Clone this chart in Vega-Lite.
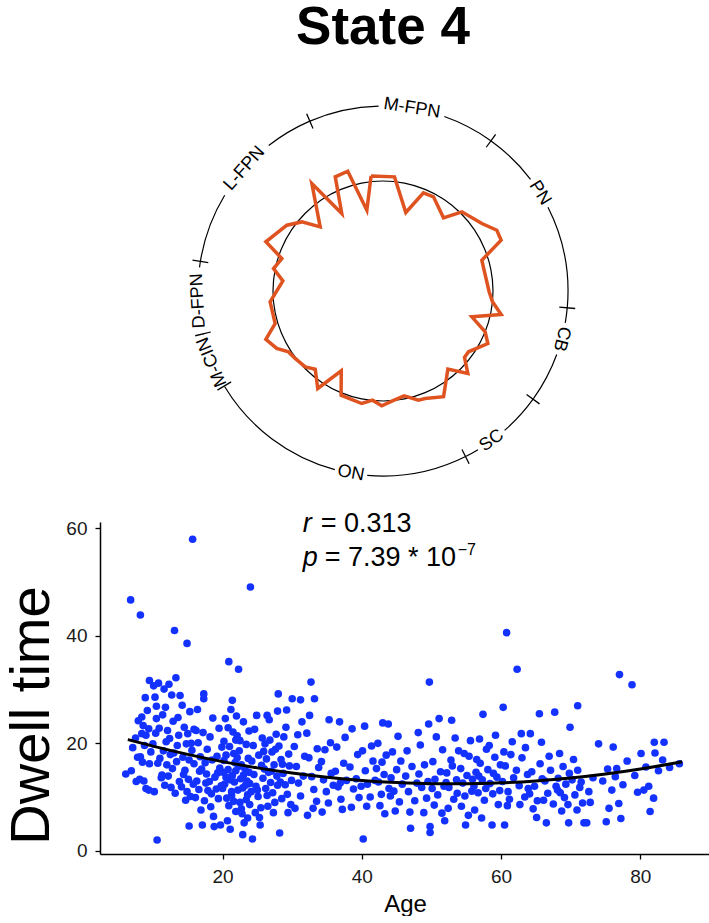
{
  "$schema": "https://vega.github.io/schema/vega-lite/v6.json",
  "padding": {"left": 3, "top": 2, "right": 0, "bottom": 0},
  "background": "white",
  "config": {"view": {"stroke": null}, "font": "Liberation Sans"},
  "spacing": 8,
  "vconcat": [
    {
      "title": {"text": "State 4", "fontSize": 53, "font": "Liberation Sans", "fontWeight": "bold", "color": "black", "offset": 26, "anchor": "middle"},
      "width": 566,
      "height": 420,
      "layer": [
        {
          "data": {"values": [{"a0": 0, "a1": 360}]},
          "mark": {"type": "arc", "outerRadius": 110.6, "innerRadius": 109.4, "color": "black"},
          "encoding": {
            "theta": {"field": "a0", "type": "quantitative", "scale": {"domain": [0, 360], "range": [0, 6.283185307]}},
            "theta2": {"field": "a1"}
          }
        },
        {
          "data": {"name": "nets", "values": [
            {"net": "M-FPN", "start": -23.5, "end": 35.5, "lab": 9},
            {"net": "PN", "start": 35.5, "end": 95, "lab": 58},
            {"net": "CB", "start": 95, "end": 125.6, "lab": 105},
            {"net": "SC", "start": 125.6, "end": 153.3, "lab": 144},
            {"net": "ON", "start": 153.3, "end": 238.9, "lab": 190},
            {"net": "M-CIN", "start": 238.9, "end": 256.4, "lab": 247.5},
            {"net": "D-FPN", "start": 256.4, "end": 279, "lab": 267},
            {"net": "L-FPN", "start": 279, "end": 336.5, "lab": 311.5}
          ]},
          "transform": [
            {"calculate": "max(datum.start, datum.lab - (length(datum.net) * 1.75 + 1.6))", "as": "e1"}
          ],
          "mark": {"type": "arc", "outerRadius": 185.6, "innerRadius": 184.4, "color": "black"},
          "encoding": {
            "theta": {"field": "start", "type": "quantitative", "scale": {"domain": [0, 360], "range": [0, 6.283185307]}},
            "theta2": {"field": "e1"}
          }
        },
        {
          "data": {"name": "nets"},
          "transform": [
            {"calculate": "min(datum.end, datum.lab + (length(datum.net) * 1.75 + 1.6))", "as": "s2"}
          ],
          "mark": {"type": "arc", "outerRadius": 185.6, "innerRadius": 184.4, "color": "black"},
          "encoding": {
            "theta": {"field": "s2", "type": "quantitative", "scale": {"domain": [0, 360], "range": [0, 6.283185307]}},
            "theta2": {"field": "end"}
          }
        },
        {
          "data": {"name": "nets"},
          "transform": [
            {"calculate": "datum.start + 0.4", "as": "t2"}
          ],
          "mark": {"type": "arc", "outerRadius": 193, "innerRadius": 177, "color": "black"},
          "encoding": {
            "theta": {"field": "start", "type": "quantitative", "scale": {"domain": [0, 360], "range": [0, 6.283185307]}},
            "theta2": {"field": "t2"}
          }
        },
        {
          "data": {"name": "nets"},
          "transform": [
            {"calculate": "(datum.lab > 120 && datum.lab < 230) ? datum.lab - 180 : datum.lab", "as": "rot"}
          ],
          "mark": {"type": "text", "radius": 185, "fontSize": 18, "font": "Liberation Sans", "align": "center", "baseline": "middle", "color": "black"},
          "encoding": {
            "theta": {"field": "lab", "type": "quantitative", "scale": {"domain": [0, 360], "range": [0, 6.283185307]}},
            "text": {"field": "net"},
            "angle": {"field": "rot", "type": "quantitative", "scale": null}
          }
        },
        {
          "data": {"values": [
            {"k": 1, "ang": 354.1, "r": 1.052}, {"k": 2, "ang": 5.75, "r": 1.043}, {"k": 3, "ang": 16.2, "r": 0.743},
            {"k": 4, "ang": 22.4, "r": 0.965}, {"k": 5, "ang": 28.2, "r": 0.971}, {"k": 6, "ang": 39.6, "r": 0.863},
            {"k": 7, "ang": 44.9, "r": 1.016}, {"k": 8, "ang": 55.7, "r": 1.088}, {"k": 9, "ang": 61.9, "r": 1.173},
            {"k": 10, "ang": 66.7, "r": 1.169}, {"k": 11, "ang": 72.7, "r": 0.941}, {"k": 12, "ang": 79.3, "r": 0.939},
            {"k": 13, "ang": 90.4, "r": 0.965}, {"k": 14, "ang": 95.6, "r": 1.0}, {"k": 15, "ang": 101.2, "r": 1.095},
            {"k": 16, "ang": 106.2, "r": 0.841}, {"k": 17, "ang": 111.8, "r": 1.0}, {"k": 18, "ang": 116.6, "r": 1.066},
            {"k": 19, "ang": 125.4, "r": 0.954}, {"k": 20, "ang": 129.2, "r": 0.956}, {"k": 21, "ang": 134.2, "r": 1.076},
            {"k": 22, "ang": 140.3, "r": 0.923}, {"k": 23, "ang": 150.2, "r": 1.108}, {"k": 24, "ang": 158.6, "r": 1.05},
            {"k": 25, "ang": 162.0, "r": 1.044}, {"k": 26, "ang": 168.6, "r": 0.972}, {"k": 27, "ang": 175.4, "r": 1.005},
            {"k": 28, "ang": 180.6, "r": 1.044}, {"k": 29, "ang": 185.5, "r": 0.997}, {"k": 30, "ang": 190.7, "r": 1.041},
            {"k": 31, "ang": 201.9, "r": 1.021}, {"k": 32, "ang": 207.6, "r": 0.819}, {"k": 33, "ang": 213.8, "r": 1.066},
            {"k": 34, "ang": 220.9, "r": 0.941}, {"k": 35, "ang": 225.7, "r": 0.988}, {"k": 36, "ang": 232.5, "r": 1.007},
            {"k": 37, "ang": 237.2, "r": 1.022}, {"k": 38, "ang": 241.6, "r": 1.098}, {"k": 39, "ang": 247.6, "r": 1.152},
            {"k": 40, "ang": 253.2, "r": 1.024}, {"k": 41, "ang": 264.5, "r": 1.031}, {"k": 42, "ang": 275.8, "r": 0.915},
            {"k": 43, "ang": 281.6, "r": 1.016}, {"k": 44, "ang": 287.8, "r": 0.966}, {"k": 45, "ang": 292.8, "r": 1.155},
            {"k": 46, "ang": 304.4, "r": 1.059}, {"k": 47, "ang": 310.4, "r": 0.969}, {"k": 48, "ang": 315.6, "r": 0.816},
            {"k": 49, "ang": 326.5, "r": 1.172}, {"k": 50, "ang": 332.0, "r": 0.798}, {"k": 51, "ang": 337.3, "r": 1.125},
            {"k": 52, "ang": 343.6, "r": 1.135}, {"k": 53, "ang": 348.7, "r": 0.749}, {"k": 54, "ang": 354.1, "r": 1.052}
          ]},
          "transform": [
            {"calculate": "datum.r * sin(datum.ang * PI / 180)", "as": "px"},
            {"calculate": "datum.r * cos(datum.ang * PI / 180)", "as": "py"}
          ],
          "mark": {"type": "line", "color": "#DF5320", "strokeWidth": 3.5, "strokeJoin": "miter"},
          "encoding": {
            "x": {"field": "px", "type": "quantitative", "scale": {"domain": [-2.5727, 2.5727], "nice": false, "zero": false}, "axis": null},
            "y": {"field": "py", "type": "quantitative", "scale": {"domain": [-1.9091, 1.9091], "nice": false, "zero": false}, "axis": null},
            "order": {"field": "k", "type": "quantitative"}
          }
        }
      ]
    },
    {
      "width": 610,
      "height": 332,
      "layer": [
        {
          "data": {"values": [
{"age":6.1,"dwell":14.3},{"age":6.8,"dwell":46.7},{"age":6.9,"dwell":14.9},{"age":7.1,"dwell":19.2},{"age":7.5,"dwell":21.0},{"age":7.8,"dwell":17.4},{"age":7.6,"dwell":12.9},{"age":7.9,"dwell":24.2},
{"age":8.2,"dwell":43.9},{"age":8.2,"dwell":17.5},{"age":8.5,"dwell":16.5},{"age":8.1,"dwell":13.3},{"age":8.7,"dwell":13.0},{"age":9.0,"dwell":11.6},{"age":9.4,"dwell":11.3},{"age":8.4,"dwell":24.9},{"age":8.6,"dwell":23.3},{"age":8.4,"dwell":21.8},{"age":9.0,"dwell":21.5},{"age":9.4,"dwell":22.7},{"age":8.9,"dwell":28.5},{"age":9.5,"dwell":31.7},{"age":9.7,"dwell":18.4},{"age":9.5,"dwell":16.2},{"age":9.2,"dwell":26.1},{"age":8.8,"dwell":19.6},
{"age":10.0,"dwell":19.9},{"age":10.5,"dwell":24.6},{"age":10.6,"dwell":2.0},{"age":11.0,"dwell":17.2},{"age":11.3,"dwell":14.1},{"age":11.2,"dwell":13.6},{"age":11.8,"dwell":26.7},{"age":10.8,"dwell":31.2},{"age":10.1,"dwell":30.7},{"age":11.6,"dwell":30.1},{"age":10.3,"dwell":28.6},{"age":10.4,"dwell":21.9},{"age":10.9,"dwell":22.8},{"age":11.5,"dwell":18.6},{"age":10.2,"dwell":11.0},{"age":11.7,"dwell":12.2},{"age":10.7,"dwell":16.3},{"age":11.4,"dwell":25.3},{"age":11.9,"dwell":20.3},{"age":10.5,"dwell":26.9},
{"age":12.3,"dwell":31.0},{"age":13.3,"dwell":32.2},{"age":12.7,"dwell":29.0},{"age":13.9,"dwell":28.9},{"age":13.1,"dwell":41.0},{"age":12.1,"dwell":22.4},{"age":12.5,"dwell":17.9},{"age":12.8,"dwell":15.3},{"age":13.2,"dwell":10.7},{"age":13.5,"dwell":19.6},{"age":12.2,"dwell":13.9},{"age":12.9,"dwell":24.1},{"age":13.7,"dwell":21.5},{"age":13.4,"dwell":16.6},{"age":12.6,"dwell":11.8},{"age":13.8,"dwell":12.9},{"age":12.4,"dwell":20.9},{"age":13.0,"dwell":18.2},{"age":13.6,"dwell":24.8},{"age":12.0,"dwell":16.0},
{"age":15.7,"dwell":58.0},{"age":14.9,"dwell":38.6},{"age":14.2,"dwell":27.1},{"age":14.5,"dwell":23.0},{"age":14.8,"dwell":19.9},{"age":14.3,"dwell":17.4},{"age":14.6,"dwell":15.0},{"age":15.1,"dwell":13.3},{"age":15.2,"dwell":4.6},{"age":15.4,"dwell":10.1},{"age":15.0,"dwell":21.8},{"age":15.6,"dwell":18.7},{"age":15.9,"dwell":16.2},{"age":14.1,"dwell":11.9},{"age":15.3,"dwell":25.9},{"age":15.8,"dwell":12.4},{"age":14.7,"dwell":9.4},{"age":15.5,"dwell":20.0},{"age":14.4,"dwell":14.2},{"age":15.2,"dwell":16.9},{"age":15.9,"dwell":22.6},{"age":14.9,"dwell":11.0},
{"age":17.3,"dwell":29.2},{"age":17.3,"dwell":28.3},{"age":17.1,"dwell":4.8},{"age":16.2,"dwell":22.4},{"age":16.5,"dwell":20.1},{"age":16.8,"dwell":17.5},{"age":17.0,"dwell":15.2},{"age":16.3,"dwell":13.0},{"age":16.6,"dwell":11.4},{"age":17.4,"dwell":9.3},{"age":17.6,"dwell":12.6},{"age":17.8,"dwell":18.9},{"age":16.4,"dwell":26.3},{"age":17.2,"dwell":22.0},{"age":16.9,"dwell":7.6},{"age":17.7,"dwell":14.3},{"age":16.1,"dwell":9.9},{"age":17.5,"dwell":16.4},{"age":16.7,"dwell":14.8},{"age":17.9,"dwell":11.2},
{"age":18.8,"dwell":4.5},{"age":19.7,"dwell":4.8},{"age":18.2,"dwell":21.2},{"age":18.5,"dwell":16.9},{"age":18.9,"dwell":13.7},{"age":19.1,"dwell":11.5},{"age":19.4,"dwell":9.7},{"age":18.3,"dwell":8.2},{"age":19.6,"dwell":15.4},{"age":19.9,"dwell":19.3},{"age":18.6,"dwell":24.7},{"age":19.2,"dwell":17.6},{"age":18.1,"dwell":12.9},{"age":19.8,"dwell":12.1},{"age":18.7,"dwell":6.4},{"age":19.5,"dwell":22.8},{"age":18.4,"dwell":10.6},{"age":19.3,"dwell":14.5},
{"age":20.9,"dwell":35.2},{"age":21.4,"dwell":28.0},{"age":20.2,"dwell":20.4},{"age":20.5,"dwell":17.8},{"age":20.8,"dwell":15.1},{"age":21.1,"dwell":13.2},{"age":21.3,"dwell":11.0},{"age":21.6,"dwell":9.2},{"age":21.9,"dwell":7.3},{"age":20.3,"dwell":12.4},{"age":20.6,"dwell":9.8},{"age":20.1,"dwell":14.6},{"age":21.0,"dwell":19.4},{"age":21.5,"dwell":22.1},{"age":21.8,"dwell":16.4},{"age":20.4,"dwell":24.6},{"age":21.2,"dwell":26.3},{"age":20.7,"dwell":5.6},{"age":21.7,"dwell":12.8},{"age":20.9,"dwell":8.4},{"age":21.4,"dwell":14.0},{"age":20.0,"dwell":11.6},{"age":21.9,"dwell":20.6},{"age":21.1,"dwell":4.0},{"age":20.5,"dwell":13.7},{"age":21.6,"dwell":18.1},{"age":20.8,"dwell":22.9},{"age":21.3,"dwell":10.3},{"age":21.9,"dwell":14.9},{"age":20.2,"dwell":16.8},
{"age":22.3,"dwell":33.8},{"age":22.9,"dwell":3.0},{"age":22.1,"dwell":21.4},{"age":22.4,"dwell":18.6},{"age":22.7,"dwell":16.0},{"age":23.0,"dwell":14.1},{"age":23.3,"dwell":12.2},{"age":23.6,"dwell":10.4},{"age":23.9,"dwell":8.6},{"age":22.2,"dwell":11.3},{"age":22.5,"dwell":9.0},{"age":22.8,"dwell":6.9},{"age":23.1,"dwell":5.2},{"age":23.4,"dwell":19.8},{"age":23.7,"dwell":17.2},{"age":22.6,"dwell":13.4},{"age":23.2,"dwell":15.3},{"age":22.0,"dwell":25.1},{"age":23.8,"dwell":22.3},{"age":22.9,"dwell":11.7},{"age":23.5,"dwell":13.0},{"age":22.3,"dwell":15.7},{"age":23.9,"dwell":12.5},{"age":22.7,"dwell":7.8},{"age":23.4,"dwell":9.5},{"age":22.1,"dwell":17.3},{"age":23.6,"dwell":6.1},{"age":22.5,"dwell":20.5},{"age":23.0,"dwell":24.0},{"age":23.8,"dwell":14.6},
{"age":24.0,"dwell":49.1},{"age":24.3,"dwell":2.2},{"age":24.9,"dwell":25.2},{"age":25.4,"dwell":4.8},{"age":24.2,"dwell":16.7},{"age":24.5,"dwell":14.2},{"age":24.8,"dwell":12.0},{"age":25.1,"dwell":10.1},{"age":25.5,"dwell":8.0},{"age":25.8,"dwell":13.5},{"age":24.4,"dwell":19.6},{"age":25.2,"dwell":17.8},{"age":25.7,"dwell":21.0},{"age":24.7,"dwell":7.1},{"age":25.0,"dwell":11.3},{"age":25.6,"dwell":15.9},{"age":24.1,"dwell":11.0},{"age":25.3,"dwell":6.2},{"age":24.6,"dwell":22.6},{"age":25.9,"dwell":18.5},
{"age":26.4,"dwell":25.2},{"age":26.1,"dwell":19.9},{"age":26.3,"dwell":17.1},{"age":26.6,"dwell":14.6},{"age":26.9,"dwell":12.7},{"age":27.2,"dwell":10.8},{"age":27.5,"dwell":9.0},{"age":27.8,"dwell":13.9},{"age":26.2,"dwell":11.6},{"age":26.5,"dwell":8.3},{"age":26.8,"dwell":20.6},{"age":27.1,"dwell":18.4},{"age":27.4,"dwell":16.0},{"age":27.7,"dwell":21.7},{"age":27.9,"dwell":12.2},{"age":26.7,"dwell":24.4},{"age":27.3,"dwell":7.1},{"age":26.0,"dwell":15.2},{"age":27.6,"dwell":18.9},{"age":26.4,"dwell":10.3},{"age":27.0,"dwell":14.8},{"age":27.9,"dwell":26.0},
{"age":28.0,"dwell":29.2},{"age":29.4,"dwell":7.1},{"age":28.2,"dwell":3.3},{"age":28.1,"dwell":19.5},{"age":28.4,"dwell":17.0},{"age":28.7,"dwell":14.4},{"age":29.0,"dwell":12.3},{"age":29.3,"dwell":10.5},{"age":29.6,"dwell":15.8},{"age":29.9,"dwell":13.1},{"age":28.5,"dwell":9.7},{"age":28.8,"dwell":21.2},{"age":29.1,"dwell":23.0},{"age":29.5,"dwell":18.0},{"age":28.3,"dwell":12.8},{"age":29.8,"dwell":8.6},{"age":28.6,"dwell":16.1},{"age":29.2,"dwell":26.2},
{"age":30.0,"dwell":28.3},{"age":31.2,"dwell":28.1},{"age":31.4,"dwell":24.0},{"age":30.3,"dwell":19.4},{"age":30.6,"dwell":15.7},{"age":30.9,"dwell":12.6},{"age":31.2,"dwell":10.2},{"age":31.6,"dwell":13.9},{"age":30.4,"dwell":7.9},{"age":31.8,"dwell":17.6},{"age":30.8,"dwell":21.6},
{"age":32.7,"dwell":31.4},{"age":33.2,"dwell":28.3},{"age":32.5,"dwell":25.2},{"age":32.1,"dwell":21.9},{"age":32.4,"dwell":17.3},{"age":32.8,"dwell":13.8},{"age":33.1,"dwell":11.4},{"age":33.5,"dwell":9.2},{"age":33.8,"dwell":15.5},{"age":32.2,"dwell":6.6},{"age":33.6,"dwell":19.0},{"age":33.0,"dwell":7.9},
{"age":35.3,"dwell":24.4},{"age":34.2,"dwell":16.6},{"age":34.5,"dwell":13.2},{"age":34.9,"dwell":11.0},{"age":35.2,"dwell":8.9},{"age":35.6,"dwell":14.4},{"age":34.7,"dwell":18.8},{"age":35.9,"dwell":12.2},{"age":34.3,"dwell":7.2},{"age":35.5,"dwell":20.1},
{"age":36.8,"dwell":24.0},{"age":36.2,"dwell":14.8},{"age":36.6,"dwell":11.9},{"age":37.0,"dwell":9.6},{"age":37.4,"dwell":16.3},{"age":37.8,"dwell":13.1},{"age":36.4,"dwell":19.3},{"age":37.2,"dwell":7.7},{"age":37.6,"dwell":21.1},{"age":36.9,"dwell":12.6},
{"age":38.6,"dwell":22.7},{"age":38.3,"dwell":15.6},{"age":38.8,"dwell":11.5},{"age":39.2,"dwell":13.4},{"age":39.6,"dwell":9.9},{"age":38.5,"dwell":8.1},{"age":39.4,"dwell":17.9},{"age":39.9,"dwell":12.0},
{"age":40.2,"dwell":2.2},{"age":40.4,"dwell":23.2},{"age":40.1,"dwell":18.6},{"age":40.5,"dwell":14.9},{"age":40.8,"dwell":12.4},{"age":41.2,"dwell":10.0},{"age":41.6,"dwell":16.7},{"age":41.9,"dwell":13.1},{"age":40.7,"dwell":8.3},{"age":41.4,"dwell":19.5},
{"age":43.0,"dwell":23.8},{"age":43.8,"dwell":23.6},{"age":42.1,"dwell":15.3},{"age":42.4,"dwell":12.8},{"age":42.8,"dwell":10.5},{"age":43.2,"dwell":14.2},{"age":43.5,"dwell":17.8},{"age":42.6,"dwell":8.4},{"age":43.9,"dwell":11.6},{"age":42.3,"dwell":20.0},{"age":43.3,"dwell":6.9},{"age":42.9,"dwell":16.5},
{"age":44.2,"dwell":13.6},{"age":44.6,"dwell":11.1},{"age":45.0,"dwell":15.1},{"age":45.4,"dwell":9.1},{"age":45.8,"dwell":12.4},{"age":44.4,"dwell":18.4},{"age":45.2,"dwell":21.3},{"age":44.8,"dwell":7.4},{"age":45.6,"dwell":16.7},{"age":44.1,"dwell":10.2},
{"age":47.0,"dwell":4.2},{"age":46.3,"dwell":13.9},{"age":46.7,"dwell":11.0},{"age":47.2,"dwell":15.7},{"age":47.6,"dwell":9.3},{"age":46.5,"dwell":18.6},{"age":47.9,"dwell":12.6},{"age":46.9,"dwell":7.2},
{"age":49.7,"dwell":31.4},{"age":49.6,"dwell":23.6},{"age":49.8,"dwell":3.4},{"age":49.8,"dwell":4.5},{"age":48.2,"dwell":14.3},{"age":48.6,"dwell":11.8},{"age":49.0,"dwell":16.0},{"age":49.3,"dwell":9.8},{"age":48.4,"dwell":19.7},{"age":48.9,"dwell":7.1},{"age":49.5,"dwell":12.9},{"age":48.1,"dwell":22.0},
{"age":51.1,"dwell":24.6},{"age":51.9,"dwell":5.6},{"age":50.2,"dwell":16.6},{"age":50.5,"dwell":13.3},{"age":50.9,"dwell":10.4},{"age":51.3,"dwell":14.7},{"age":51.6,"dwell":18.8},{"age":50.4,"dwell":8.5},{"age":51.8,"dwell":12.0},{"age":50.7,"dwell":21.2},{"age":51.5,"dwell":7.0},{"age":50.1,"dwell":11.6},
{"age":52.9,"dwell":24.3},{"age":52.2,"dwell":14.5},{"age":52.5,"dwell":11.8},{"age":52.8,"dwell":16.9},{"age":53.2,"dwell":9.6},{"age":53.6,"dwell":13.2},{"age":53.9,"dwell":18.6},{"age":52.4,"dwell":7.9},{"age":53.4,"dwell":21.0},{"age":52.1,"dwell":12.7},{"age":53.7,"dwell":10.7},{"age":53.0,"dwell":15.8},
{"age":54.9,"dwell":4.8},{"age":54.2,"dwell":15.3},{"age":54.5,"dwell":12.6},{"age":54.8,"dwell":10.2},{"age":55.1,"dwell":14.0},{"age":55.4,"dwell":17.6},{"age":55.8,"dwell":11.1},{"age":54.3,"dwell":8.3},{"age":55.6,"dwell":20.5},{"age":54.7,"dwell":18.1},{"age":55.3,"dwell":6.6},{"age":55.9,"dwell":13.3},
{"age":57.4,"dwell":25.4},{"age":56.1,"dwell":12.0},{"age":56.4,"dwell":14.6},{"age":56.7,"dwell":10.8},{"age":57.0,"dwell":16.3},{"age":57.3,"dwell":13.2},{"age":57.6,"dwell":9.4},{"age":57.9,"dwell":18.9},{"age":56.2,"dwell":7.6},{"age":56.9,"dwell":20.8},{"age":57.8,"dwell":11.6},{"age":56.5,"dwell":17.0},{"age":57.2,"dwell":6.1},{"age":56.8,"dwell":13.9},
{"age":58.7,"dwell":4.8},{"age":58.1,"dwell":15.1},{"age":58.4,"dwell":12.5},{"age":58.8,"dwell":10.6},{"age":59.1,"dwell":17.4},{"age":59.4,"dwell":13.7},{"age":59.8,"dwell":11.2},{"age":58.3,"dwell":19.6},{"age":59.6,"dwell":8.6},{"age":58.9,"dwell":14.4},{"age":59.2,"dwell":21.5},{"age":59.9,"dwell":16.0},
{"age":60.8,"dwell":40.6},{"age":60.3,"dwell":26.7},{"age":60.5,"dwell":4.8},{"age":60.2,"dwell":12.9},{"age":60.6,"dwell":15.8},{"age":61.0,"dwell":11.0},{"age":61.4,"dwell":17.9},{"age":61.8,"dwell":13.6},{"age":60.9,"dwell":8.4},{"age":61.6,"dwell":20.3},{"age":61.2,"dwell":9.6},{"age":60.4,"dwell":18.4},
{"age":62.3,"dwell":33.8},{"age":62.9,"dwell":21.8},{"age":62.2,"dwell":15.0},{"age":62.6,"dwell":12.1},{"age":63.0,"dwell":17.3},{"age":63.4,"dwell":10.0},{"age":63.8,"dwell":14.2},{"age":62.7,"dwell":8.6},{"age":63.5,"dwell":19.2},{"age":63.9,"dwell":11.6},
{"age":64.2,"dwell":21.8},{"age":65.1,"dwell":6.2},{"age":65.5,"dwell":25.5},{"age":64.4,"dwell":14.7},{"age":64.8,"dwell":12.0},{"age":65.2,"dwell":9.3},{"age":65.6,"dwell":16.2},{"age":64.1,"dwell":10.6},{"age":65.9,"dwell":13.4},{"age":64.6,"dwell":7.8},
{"age":66.5,"dwell":5.2},{"age":67.7,"dwell":25.8},{"age":65.8,"dwell":20.2},{"age":66.3,"dwell":13.0},{"age":66.7,"dwell":10.7},{"age":67.1,"dwell":15.0},{"age":67.5,"dwell":8.7},{"age":67.9,"dwell":12.0},{"age":66.9,"dwell":17.6},{"age":66.1,"dwell":9.4},
{"age":69.7,"dwell":5.2},{"age":69.9,"dwell":23.0},{"age":68.2,"dwell":13.5},{"age":68.5,"dwell":10.8},{"age":68.9,"dwell":15.7},{"age":69.3,"dwell":12.4},{"age":69.6,"dwell":8.6},{"age":68.4,"dwell":18.1},{"age":69.1,"dwell":9.9},{"age":68.7,"dwell":7.4},{"age":69.8,"dwell":14.4},{"age":68.1,"dwell":11.3},
{"age":71.0,"dwell":27.0},{"age":71.9,"dwell":5.2},{"age":70.2,"dwell":13.2},{"age":70.6,"dwell":10.4},{"age":71.0,"dwell":15.0},{"age":71.3,"dwell":11.8},{"age":71.7,"dwell":8.9},{"age":70.4,"dwell":17.0},{"age":70.9,"dwell":7.6},{"age":71.5,"dwell":12.8},
{"age":72.3,"dwell":5.2},{"age":72.6,"dwell":11.0},{"age":73.2,"dwell":13.6},{"age":72.8,"dwell":9.0},
{"age":74.0,"dwell":19.9},{"age":75.1,"dwell":5.4},{"age":75.5,"dwell":7.9},{"age":75.9,"dwell":11.3},{"age":74.6,"dwell":13.0},{"age":75.3,"dwell":15.2},
{"age":76.1,"dwell":19.3},{"age":76.6,"dwell":15.3},{"age":76.4,"dwell":13.8},{"age":77.2,"dwell":6.0},{"age":76.9,"dwell":8.8},{"age":77.0,"dwell":32.8},{"age":77.5,"dwell":12.3},
{"age":78.8,"dwell":30.9},{"age":78.1,"dwell":16.7},{"age":79.2,"dwell":14.0},{"age":79.6,"dwell":10.9},
{"age":80.1,"dwell":18.1},{"age":80.5,"dwell":11.3},{"age":81.4,"dwell":7.3},{"age":81.9,"dwell":9.8},{"age":80.8,"dwell":15.6},{"age":81.2,"dwell":12.0},
{"age":82.1,"dwell":18.2},{"age":82.0,"dwell":20.2},{"age":83.4,"dwell":20.2},{"age":82.6,"dwell":14.9},{"age":83.2,"dwell":16.9},
{"age":84.2,"dwell":15.5},{"age":85.6,"dwell":16.2}
          ]},
          "mark": {"type": "circle", "size": 58, "color": "#1432FF", "opacity": 1},
          "encoding": {
            "x": {"field": "age", "type": "quantitative", "scale": {"domain": [2.4, 90], "nice": false, "zero": false},
              "axis": {"title": "Age", "values": [20, 40, 60, 80], "grid": false, "titleFontSize": 24, "titleFontWeight": "normal", "titleColor": "black", "titlePadding": 6, "labelFontSize": 19, "labelColor": "#1a1a1a", "labelPadding": 8, "tickSize": 5, "tickWidth": 1.3, "tickColor": "black", "domainColor": "black", "domainWidth": 1.5}},
            "y": {"field": "dwell", "type": "quantitative", "scale": {"domain": [-0.6, 61.2], "nice": false, "zero": false},
              "axis": {"title": "Dwell time", "values": [0, 20, 40, 60], "grid": false, "titleFontSize": 56, "titleFontWeight": "normal", "titleColor": "black", "titleY": 193, "titlePadding": 5, "labelFontSize": 19, "labelColor": "#1a1a1a", "labelPadding": 8, "tickSize": 5, "tickWidth": 1.3, "tickColor": "black", "domainColor": "black", "domainWidth": 1.5}}
          }
        },
        {
          "data": {"values": [
            {"age": 6.4, "dwell": 20.7}, {"age": 10, "dwell": 19.48}, {"age": 15, "dwell": 17.94}, {"age": 20, "dwell": 16.59},
            {"age": 25, "dwell": 15.43}, {"age": 30, "dwell": 14.46}, {"age": 35, "dwell": 13.68}, {"age": 40, "dwell": 13.09},
            {"age": 45, "dwell": 12.69}, {"age": 50, "dwell": 12.48}, {"age": 55, "dwell": 12.47}, {"age": 60, "dwell": 12.64},
            {"age": 65, "dwell": 13.0}, {"age": 70, "dwell": 13.55}, {"age": 75, "dwell": 14.29}, {"age": 80, "dwell": 15.22},
            {"age": 86, "dwell": 16.59}
          ]},
          "mark": {"type": "line", "color": "black", "strokeWidth": 3, "interpolate": "monotone"},
          "encoding": {
            "x": {"field": "age", "type": "quantitative"},
            "y": {"field": "dwell", "type": "quantitative"}
          }
        },
        {
          "data": {"values": [{}]},
          "mark": {"type": "text", "text": "r", "fontSize": 27, "fontStyle": "italic", "align": "left", "baseline": "middle", "color": "black"},
          "encoding": {"x": {"datum": 31.5, "type": "quantitative"}, "y": {"datum": 60.9, "type": "quantitative"}}
        },
        {
          "data": {"values": [{}]},
          "mark": {"type": "text", "text": "= 0.313", "fontSize": 27, "align": "left", "baseline": "middle", "dx": 18, "color": "black"},
          "encoding": {"x": {"datum": 31.5, "type": "quantitative"}, "y": {"datum": 60.9, "type": "quantitative"}}
        },
        {
          "data": {"values": [{}]},
          "mark": {"type": "text", "text": "p", "fontSize": 27, "fontStyle": "italic", "align": "left", "baseline": "middle", "color": "black"},
          "encoding": {"x": {"datum": 31.5, "type": "quantitative"}, "y": {"datum": 54.5, "type": "quantitative"}}
        },
        {
          "data": {"values": [{}]},
          "mark": {"type": "text", "text": "= 7.39 * 10", "fontSize": 27, "align": "left", "baseline": "middle", "dx": 22, "color": "black"},
          "encoding": {"x": {"datum": 31.5, "type": "quantitative"}, "y": {"datum": 54.5, "type": "quantitative"}}
        },
        {
          "data": {"values": [{}]},
          "mark": {"type": "text", "text": "−7", "fontSize": 16, "align": "left", "baseline": "middle", "dx": 155, "dy": -8, "color": "black"},
          "encoding": {"x": {"datum": 31.5, "type": "quantitative"}, "y": {"datum": 54.5, "type": "quantitative"}}
        }
      ]
    }
  ]
}
